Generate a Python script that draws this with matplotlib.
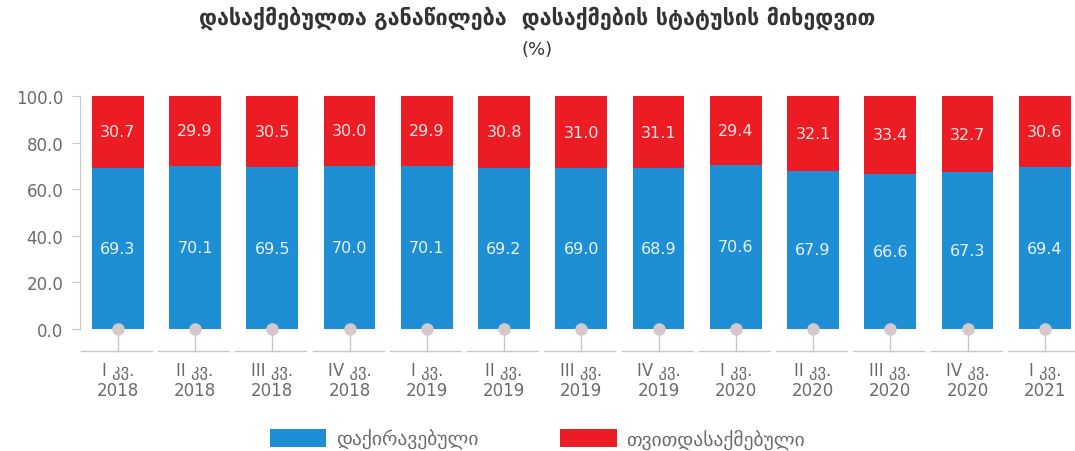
import matplotlib.pyplot as plt
import matplotlib.transforms as mtransforms
import numpy as np

# Données (en %)
kvartlebi = ["I კვ.\n2018", "II კვ.\n2018", "III კვ.\n2018", "IV კვ.\n2018",
             "I კვ.\n2019", "II კვ.\n2019", "III კვ.\n2019", "IV კვ.\n2019",
             "I კვ.\n2020", "II კვ.\n2020", "III კვ.\n2020", "IV კვ.\n2020",
             "I კვ.\n2021"]
daqiravebuli = [69.3, 70.1, 69.5, 70.0, 70.1, 69.2, 69.0, 68.9, 70.6, 67.9, 66.6, 67.3, 69.4]
tvitdasaqmebuli = [30.7, 29.9, 30.5, 30.0, 29.9, 30.8, 31.0, 31.1, 29.4, 32.1, 33.4, 32.7, 30.6]

bleu = '#1E8FD5'
rouge = '#EC1C24'
gris = '#6b6b6b'
gris_ligne = '#c8c8c8'

plt.rcParams['font.family'] = ['DejaVu Sans']

fig = plt.figure(figsize=(10.75, 4.52), dpi=100)
ax = fig.add_axes([80 / 1075, 1 - 330 / 452, 1 - 80 / 1075, (330 - 97) / 452])

x = np.arange(len(kvartlebi))
largeur = 0.67

b1 = ax.bar(x, daqiravebuli, largeur, color=bleu, label='დაქირავებული', zorder=2)
b2 = ax.bar(x, tvitdasaqmebuli, largeur, bottom=daqiravebuli, color=rouge,
            label='თვითდასაქმებული', zorder=2)

# Valeurs dans les barres
for i in range(len(x)):
    ax.text(x[i], daqiravebuli[i] / 2, f"{daqiravebuli[i]:.1f}", ha='center', va='center',
            color='#e8f2fa', fontsize=11.5, zorder=3)
    ax.text(x[i], daqiravebuli[i] + tvitdasaqmebuli[i] / 2, f"{tvitdasaqmebuli[i]:.1f}",
            ha='center', va='center', color='#fbe3e3', fontsize=11.5, zorder=3)

ax.set_xlim(-0.49, 12.39)
ax.set_ylim(0, 100)
ax.set_yticks(np.arange(0, 101, 20))
ax.set_yticklabels([f"{v:.1f}" for v in np.arange(0, 101, 20)], color=gris, fontsize=12)
ax.tick_params(axis='y', length=6, color=gris_ligne, pad=6)

for s in ['top', 'right', 'bottom']:
    ax.spines[s].set_visible(False)
ax.spines['left'].set_color(gris_ligne)

# Axe des catégories décalé vers le bas
ax.set_xticks(x)
ax.set_xticklabels(kvartlebi, color=gris, fontsize=12, linespacing=1.15)
ax.tick_params(axis='x', length=0, pad=23)

# Petits traits horizontaux sous chaque catégorie + tige verticale + point
trans = mtransforms.offset_copy(ax.transData, fig=fig, y=-22, units='dots')
for xi in x:
    ax.plot([xi - 0.48, xi + 0.44], [0, 0], color=gris_ligne, lw=1, transform=trans, clip_on=False)
    ax.plot([xi, xi], [0, -9.5], color=gris_ligne, lw=1, clip_on=False, zorder=1)
    ax.plot([xi], [0], marker='o', ms=8, color='#d6c9cc', clip_on=False, zorder=4)

# Titre
fig.text(0.5, 1 - 18 / 452, "დასაქმებულთა განაწილება  დასაქმების სტატუსის მიხედვით",
         ha='center', va='center', fontsize=15.5, fontweight='bold', color='#333333')
fig.text(0.5, 1 - 50 / 452, "(%)", ha='center', va='center', fontsize=13, color='#333333')

# Légende
fig.legend(handles=[b1, b2], loc='center', bbox_to_anchor=(0.5, 1 - 440 / 452), ncol=2,
           frameon=False, fontsize=14, handlelength=2.9, handleheight=1.0,
           handletextpad=0.5, columnspacing=4.2, labelcolor=gris)

fig.savefig('out.png', dpi=100)
